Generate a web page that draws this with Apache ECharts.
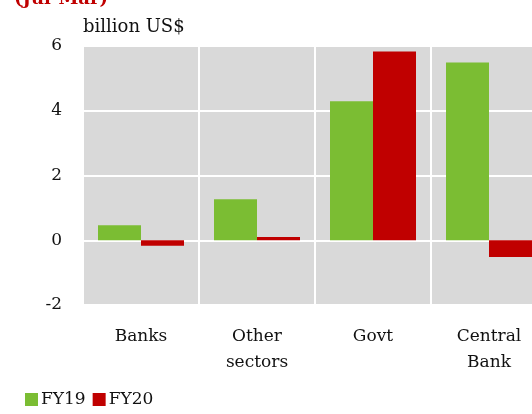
<!DOCTYPE html>
<html><head><meta charset="utf-8">
<script src="https://cdn.jsdelivr.net/npm/echarts@6/dist/echarts.min.js"></script>
<style>html,body{margin:0;padding:0;background:#fff}#c{width:532px;height:414px}</style>
</head><body><div id="c"></div>
<script>
var categories = ['Banks', 'Other\nsectors', 'Govt', 'Central\nBank'];
var fy19 = [0.46, 1.27, 4.29, 5.49];
var fy20 = [-0.17, 0.1, 5.83, -0.52];
var seriesNames = ['FY19', 'FY20'];
var yTicks = [-2, 0, 2, 4, 6];
var FONT = '"DejaVu Serif", "Liberation Serif", serif';
var chart = echarts.init(document.getElementById('c'));
chart.setOption({
  animation: false,
  textStyle: {fontFamily: FONT},
  graphic: [
    {type: 'text', left: 14, top: -10, style: {text: '(Jul-Mar)', fill: '#C00000', font: 'bold 18px ' + FONT}},
    {type: 'text', left: 83, top: 18, style: {text: 'billion US$', fill: '#111', font: '18px ' + FONT}}
  ],
  grid: {left: 83, width: 464, top: 46, bottom: 109, show: true, backgroundColor: '#D9D9D9', borderWidth: 0, containLabel: false, outerBoundsMode: 'none'},
  legend: {
    left: 20, bottom: 1, itemWidth: 13, itemHeight: 13, itemGap: 7, icon: 'rect',
    textStyle: {fontSize: 17, color: '#111', fontFamily: FONT, padding: [0, 0, 0, -2]},
    data: seriesNames
  },
  xAxis: {
    type: 'category', data: categories,
    axisLine: {show: false}, axisTick: {show: false},
    splitLine: {show: true, lineStyle: {color: '#fff', width: 2}},
    axisLabel: {fontSize: 17, color: '#111', fontFamily: FONT, margin: 19, lineHeight: 26, interval: 0}
  },
  yAxis: {
    type: 'value', min: yTicks[0], max: yTicks[yTicks.length - 1], interval: 2,
    axisLine: {show: false}, axisTick: {show: false},
    splitLine: {show: true, lineStyle: {color: '#fff', width: 2}},
    axisLabel: {fontSize: 17, color: '#111', fontFamily: FONT, margin: 21}
  },
  series: [
    {name: seriesNames[0], type: 'bar', data: fy19, barWidth: 43, barGap: '0%', itemStyle: {color: '#7BBD33'}},
    {name: seriesNames[1], type: 'bar', data: fy20, barWidth: 43, barGap: '0%', itemStyle: {color: '#C00000'}}
  ]
});
</script></body></html>
